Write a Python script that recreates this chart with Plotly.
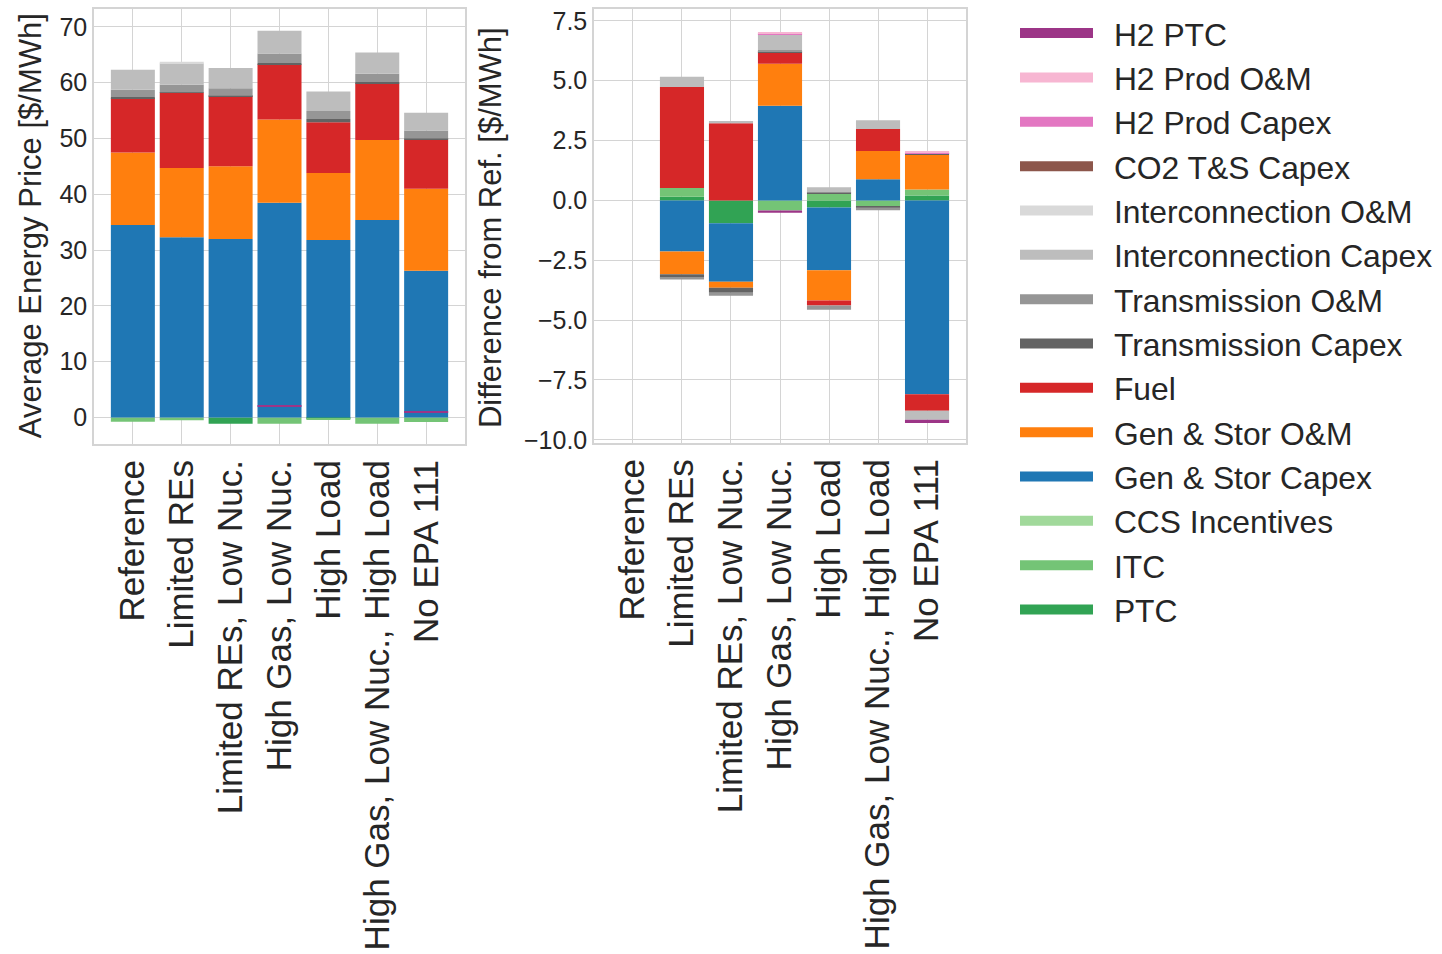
import plotly.graph_objects as go

W, H = 1442, 954

scenarios = ["Reference", "Limited REs", "Limited REs, Low Nuc.", "High Gas, Low Nuc.",
             "High Load", "High Gas, Low Nuc., High Load", "No EPA 111"]

# Cost components in stacking order (first = closest to zero)
components = ["PTC", "ITC", "CCS Incentives", "Gen & Stor Capex", "Gen & Stor O&M", "Fuel",
              "Transmission Capex", "Transmission O&M", "Interconnection Capex",
              "Interconnection O&M", "CO2 T&S Capex", "H2 Prod Capex", "H2 Prod O&M", "H2 PTC"]
colors = ["#31a354", "#74c476", "#a1d99b", "#1f77b4", "#ff7f0e", "#d62728",
          "#636363", "#969696", "#bdbdbd", "#d9d9d9", "#8c564b", "#e377c2", "#f7b6d2", "#9c3587"]

# Average energy price by component [$/MWh]
price_ptc = [0.0, 0.0, -1.1, 0.0, -0.2, 0.0, 0.0]
price_itc = [-0.75, -0.5, 0.0, -1.1, -0.25, -1.1, -0.8]
price_ccs = [0.0, 0.0, 0.0, 0.0, 0.0, 0.0, 0.0]
price_gen_capex = [34.5, 32.3, 32.0, 38.5, 31.8, 35.4, 26.3]
price_gen_om = [13.0, 12.4, 13.0, 14.9, 12.0, 14.3, 14.7]
price_fuel = [9.7, 13.5, 12.6, 9.9, 9.1, 10.2, 8.8]
price_tx_capex = [0.2, 0.05, 0.05, 0.2, 0.6, 0.2, 0.2]
price_tx_om = [1.3, 1.35, 1.35, 1.7, 1.4, 1.5, 1.4]
price_ic_capex = [3.6, 3.8, 3.6, 4.1, 3.5, 3.8, 3.2]
price_ic_om = [0.0, 0.35, 0.0, 0.0, 0.0, 0.0, 0.0]
price_co2 = [0.0, 0.0, 0.0, 0.0, 0.0, 0.0, 0.0]
price_h2_capex = [0.0, 0.0, 0.0, 0.0, 0.0, 0.0, 0.0]
price_h2_om = [0.0, 0.0, 0.0, 0.0, 0.0, 0.0, 0.0]
price_h2_ptc = [0.0, 0.0, 0.0, -0.2, 0.0, 0.0, -0.2]
price_h2_ptc_base = [0.0, 0.0, 0.0, 2.1, 0.0, 0.0, 1.15]

# Difference from the Reference scenario by component [$/MWh]
delta_ptc = [0.0, 0.15, -0.95, 0.0, -0.3, 0.0, 0.2]
delta_itc = [0.0, 0.37, 0.0, -0.42, 0.28, -0.24, 0.26]
delta_ccs = [0.0, 0.0, 0.0, 0.0, 0.0, 0.0, 0.0]
delta_gen_capex = [0.0, -2.13, -2.45, 3.95, -2.62, 0.88, -8.1]
delta_gen_om = [0.0, -0.95, -0.25, 1.76, -1.26, 1.18, 1.45]
delta_fuel = [0.0, 4.22, 3.22, 0.48, -0.21, 0.92, -0.69]
delta_tx_capex = [0.0, -0.14, -0.21, 0.05, 0.05, -0.06, 0.06]
delta_tx_om = [0.0, -0.08, -0.12, 0.04, -0.18, -0.11, 0.0]
delta_ic_capex = [0.0, 0.43, 0.1, 0.66, 0.22, 0.37, -0.37]
delta_ic_om = [0.0, 0.0, 0.0, 0.0, 0.0, 0.0, 0.0]
delta_co2 = [0.0, 0.0, 0.0, 0.0, 0.0, 0.0, 0.0]
delta_h2_capex = [0.0, 0.0, 0.0, 0.05, 0.0, 0.0, 0.04]
delta_h2_om = [0.0, 0.0, 0.0, 0.05, 0.0, 0.0, 0.03]
delta_h2_ptc = [0.0, 0.0, 0.0, -0.1, 0.0, 0.0, -0.14]

price_series = [price_ptc, price_itc, price_ccs, price_gen_capex, price_gen_om, price_fuel,
                price_tx_capex, price_tx_om, price_ic_capex, price_ic_om, price_co2,
                price_h2_capex, price_h2_om, price_h2_ptc]
delta_series = [delta_ptc, delta_itc, delta_ccs, delta_gen_capex, delta_gen_om, delta_fuel,
                delta_tx_capex, delta_tx_om, delta_ic_capex, delta_ic_om, delta_co2,
                delta_h2_capex, delta_h2_om, delta_h2_ptc]

FONT = "Liberation Sans, Arial, sans-serif"
TXT = "#262626"
GRID = "#d4d4d4"

fig = go.Figure()
xs = list(range(len(scenarios)))

for name, col, vals in zip(components, colors, price_series):
    kw = {}
    if name == "H2 PTC":
        kw["base"] = price_h2_ptc_base
    fig.add_trace(go.Bar(x=xs, y=vals, name=name, marker=dict(color=col, line=dict(width=0)),
                         width=0.9, showlegend=False, xaxis="x", yaxis="y", **kw))

for name, col, vals in zip(components, colors, delta_series):
    fig.add_trace(go.Bar(x=xs, y=vals, name=name, marker=dict(color=col, line=dict(width=0)),
                         width=0.9, showlegend=False, xaxis="x2", yaxis="y2"))

# Legend entries drawn as thick lines, top entry = last stacked component
for name, col in reversed(list(zip(components, colors))):
    fig.add_trace(go.Scatter(x=[None], y=[None], mode="lines", name="\u2002" + name,
                             line=dict(color=col, width=10), xaxis="x", yaxis="y"))


def px_x(p):
    return p / W


def px_y(p):
    return 1 - p / H


line_common = dict(showgrid=True, gridcolor=GRID, gridwidth=1, showline=True, linecolor=GRID,
                   linewidth=1.5, mirror=True, zeroline=False, ticks="")
ytick_font = dict(family=FONT, size=25, color=TXT)
xtick_font = dict(family=FONT, size=35, color=TXT)

fig.update_layout(
    width=W, height=H, barmode="relative",
    paper_bgcolor="white", plot_bgcolor="white",
    margin=dict(l=0, r=0, t=0, b=0),
    font=dict(family=FONT, color=TXT),
    xaxis=dict(domain=[px_x(94), px_x(465)], range=[-0.795, 6.795],
               tickmode="array", tickvals=xs, ticktext=scenarios, tickangle=-90,
               anchor="y", tickfont=xtick_font, **line_common),
    yaxis=dict(domain=[px_y(448), px_y(7)], range=[-4.8, 73.2], anchor="x",
               tickmode="array", tickvals=[0, 10, 20, 30, 40, 50, 60, 70],
               tickfont=ytick_font, **line_common),
    xaxis2=dict(domain=[px_x(594), px_x(966)], range=[-0.795, 6.795],
                tickmode="array", tickvals=xs, ticktext=scenarios, tickangle=-90,
                anchor="y2", tickfont=xtick_font, **line_common),
    yaxis2=dict(domain=[px_y(447), px_y(7)], range=[-10.15, 8.0], anchor="x2",
                tickmode="array", tickvals=[-10, -7.5, -5, -2.5, 0, 2.5, 5, 7.5],
                tickformat=".1f", tickfont=ytick_font, **line_common),
    legend=dict(x=px_x(1015), y=px_y(4), xanchor="left", yanchor="top",
                font=dict(family=FONT, size=31.8, color=TXT), traceorder="normal",
                itemwidth=73, bgcolor="rgba(0,0,0,0)"),
    annotations=[
        dict(text="Average Energy Price [$/MWh]", x=px_x(30), y=px_y(227), xref="paper",
             yref="paper", textangle=-90, showarrow=False, xanchor="center", yanchor="middle",
             font=dict(family=FONT, size=31, color=TXT)),
        dict(text="Difference from Ref. [$/MWh]", x=px_x(490), y=px_y(229), xref="paper",
             yref="paper", textangle=-90, showarrow=False, xanchor="center", yanchor="middle",
             font=dict(family=FONT, size=31, color=TXT)),
    ],
)

fig.write_html("out.html")
